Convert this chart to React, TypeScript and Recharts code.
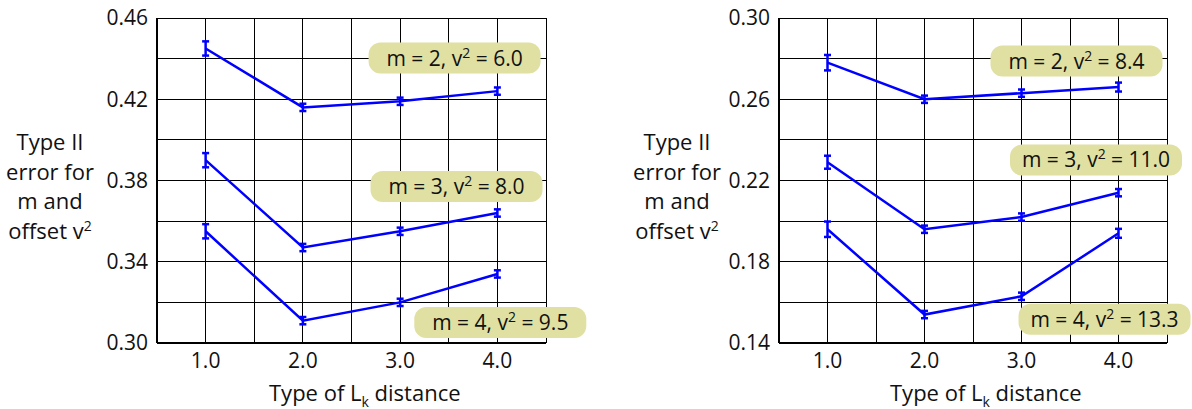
import { LineChart, Line, XAxis, YAxis, CartesianGrid, ErrorBar, ReferenceDot } from 'recharts'

const FONT = '"Open Sans", "Noto Sans", sans-serif'

// x positions (type of Lk distance) and grid ticks
const distances = [1, 2, 3, 4]
const xTicks = [0.5, 1, 1.5, 2, 2.5, 3, 3.5, 4, 4.5]

// left panel
const leftYTicks = [0.3, 0.32, 0.34, 0.36, 0.38, 0.4, 0.42, 0.44, 0.46]
const leftM2 = [0.445, 0.416, 0.419, 0.424]
const leftM2Err = [0.0035, 0.0018, 0.0018, 0.0018]
const leftM3 = [0.39, 0.347, 0.355, 0.364]
const leftM3Err = [0.0035, 0.0018, 0.0018, 0.0018]
const leftM4 = [0.355, 0.311, 0.32, 0.334]
const leftM4Err = [0.0035, 0.0018, 0.0018, 0.0018]
const leftLabels = ['m = 2, v', 'm = 3, v', 'm = 4, v']
const leftLabelTails = [' = 6.0', ' = 8.0', ' = 9.5']
const leftLabelX = [3.56, 3.58, 4.03]
const leftLabelY = [0.4403, 0.3771, 0.3101]

// right panel
const rightYTicks = [0.14, 0.16, 0.18, 0.2, 0.22, 0.24, 0.26, 0.28, 0.3]
const rightM2 = [0.278, 0.26, 0.263, 0.266]
const rightM2Err = [0.0038, 0.0018, 0.0018, 0.0022]
const rightM3 = [0.229, 0.196, 0.202, 0.214]
const rightM3Err = [0.0032, 0.0018, 0.0018, 0.0018]
const rightM4 = [0.196, 0.154, 0.163, 0.194]
const rightM4Err = [0.0038, 0.0018, 0.0018, 0.0022]
const rightLabels = ['m = 2, v', 'm = 3, v', 'm = 4, v']
const rightLabelTails = [' = 8.4', ' = 11.0', ' = 13.3']
const rightLabelX = [3.567, 3.768, 3.856]
const rightLabelY = [0.2788, 0.2301, 0.1517]

const toRows = (vals: number[], errs: number[]) =>
  distances.map((x, i) => ({ x, y: vals[i], err: errs[i] }))

function Badge({ cx, cy, head, tail }: { cx: number; cy: number; head: string; tail: string }) {
  const w = 172
  const h = 31
  return (
    <g>
      <rect x={cx - w / 2} y={cy - h / 2} width={w} height={h} rx={12} ry={12} fill="#e0e0a2" />
      <text x={cx} y={cy + 7.5} textAnchor="middle" fontSize={21} fontFamily={FONT} fill="#111">
        {head}
        <tspan fontSize={14} dy={-8}>2</tspan>
        <tspan dy={8}>{tail}</tspan>
      </text>
    </g>
  )
}

interface PanelProps {
  yTicks: number[]
  series: { vals: number[]; errs: number[] }[]
  labels: string[]
  tails: string[]
  labelX: number[]
  labelY: number[]
  marginLeft: number
  marginRight: number
}

function Panel({ yTicks, series, labels, tails, labelX, labelY, marginLeft, marginRight }: PanelProps) {
  const tick = { fontSize: 21, fill: '#111', fontFamily: FONT }
  return (
    <LineChart
      width={596}
      height={409}
      margin={{ top: 18, right: marginRight, left: marginLeft, bottom: 26 }}
    >
      <CartesianGrid stroke="#000" strokeWidth={1} shapeRendering="crispEdges" />
      <XAxis
        type="number"
        dataKey="x"
        domain={[0.5, 4.5]}
        ticks={xTicks}
        interval={0}
        tickLine={false}
        tickSize={0}
        tickMargin={10}
        height={40}
        stroke="#000"
        strokeWidth={2}
        tick={tick}
        tickFormatter={(v: number) => (Number.isInteger(v) ? v.toFixed(1) : '')}
        allowDuplicatedCategory={false}
      />
      <YAxis
        type="number"
        domain={[yTicks[0], yTicks[yTicks.length - 1]]}
        ticks={yTicks}
        interval={0}
        tickLine={false}
        tickSize={0}
        tickMargin={9}
        width={60}
        stroke="#000"
        strokeWidth={2}
        tick={tick}
        tickFormatter={(v: number, i: number) => (i % 2 === 0 ? v.toFixed(2) : '')}
      />
      {series.map((s, k) => (
        <Line
          key={k}
          data={toRows(s.vals, s.errs)}
          dataKey="y"
          type="linear"
          stroke="#0000ff"
          strokeWidth={2.5}
          dot={false}
          isAnimationActive={false}
        >
          <ErrorBar dataKey="err" direction="y" width={3.5} stroke="#0000ff" strokeWidth={2.5} isAnimationActive={false} />
        </Line>
      ))}
      {labels.map((head, k) => (
        <ReferenceDot
          key={k}
          x={labelX[k]}
          y={labelY[k]}
          ifOverflow="visible"
          shape={(p: any) => <Badge cx={p.cx} cy={p.cy} head={head} tail={tails[k]} />}
        />
      ))}
    </LineChart>
  )
}

const yTitleLines = ['Type II', 'error for', 'm and', 'offset v']

function YTitle({ left }: { left: number }) {
  return (
    <div
      style={{
        position: 'absolute',
        left,
        top: 127,
        width: 120,
        textAlign: 'center',
        fontSize: 22,
        lineHeight: '29.5px',
        color: '#111',
      }}
    >
      {yTitleLines.map((t, i) => (
        <div key={i}>
          {t}
          {i === yTitleLines.length - 1 && <sup style={{ fontSize: 14, verticalAlign: 'top', lineHeight: '20px' }}>2</sup>}
        </div>
      ))}
    </div>
  )
}

function XTitle({ left }: { left: number }) {
  return (
    <div style={{ position: 'absolute', left, top: 377, fontSize: 22, color: '#111', whiteSpace: 'nowrap' }}>
      Type of L<sub style={{ fontSize: 14, color: '#111', verticalAlign: 'baseline', position: 'relative', top: 6 }}>k</sub> distance
    </div>
  )
}

export default function App() {
  return (
    <div
      style={{
        position: 'absolute',
        left: 0,
        top: 0,
        width: 1192,
        height: 409,
        background: '#fff',
        fontFamily: FONT,
      }}
    >
      <div style={{ position: 'absolute', left: 0, top: 0 }}>
        <Panel
          yTicks={leftYTicks}
          series={[
            { vals: leftM2, errs: leftM2Err },
            { vals: leftM3, errs: leftM3Err },
            { vals: leftM4, errs: leftM4Err },
          ]}
          labels={leftLabels}
          tails={leftLabelTails}
          labelX={leftLabelX}
          labelY={leftLabelY}
          marginLeft={97}
          marginRight={50}
        />
      </div>
      <div style={{ position: 'absolute', left: 596, top: 0 }}>
        <Panel
          yTicks={rightYTicks}
          series={[
            { vals: rightM2, errs: rightM2Err },
            { vals: rightM3, errs: rightM3Err },
            { vals: rightM4, errs: rightM4Err },
          ]}
          labels={rightLabels}
          tails={rightLabelTails}
          labelX={rightLabelX}
          labelY={rightLabelY}
          marginLeft={123}
          marginRight={25}
        />
      </div>
      <YTitle left={-10} />
      <YTitle left={617} />
      <XTitle left={269} />
      <XTitle left={890} />
    </div>
  )
}
